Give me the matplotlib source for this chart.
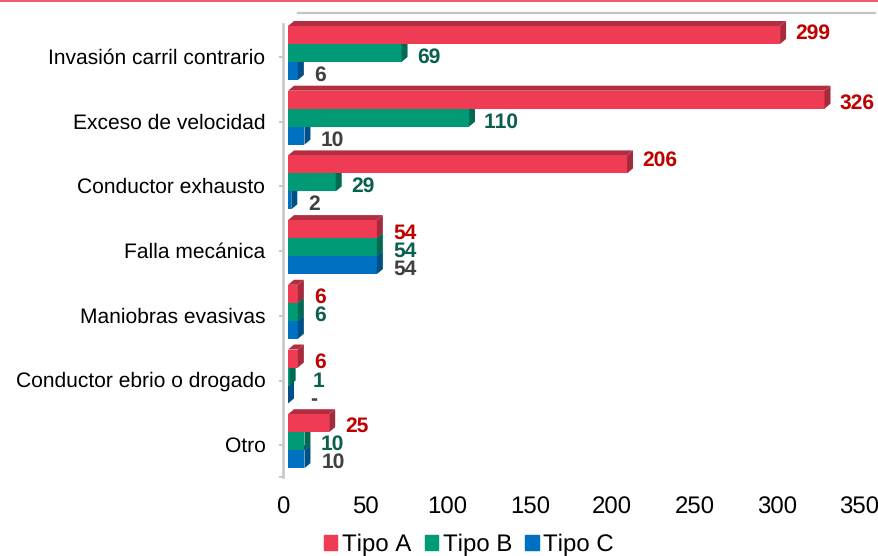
import matplotlib
matplotlib.use('Agg')
import matplotlib.pyplot as plt
from matplotlib.lines import Line2D
from matplotlib.patches import Patch
from matplotlib.transforms import ScaledTranslation
import numpy as np

plt.rcParams['font.family'] = ['Liberation Sans', 'DejaVu Sans']
plt.rcParams['text.hinting'] = 'no_hinting'
plt.rcParams['text.hinting_factor'] = 1
plt.rcParams['text.kerning_factor'] = 6

causas = ['Invasión carril contrario', 'Exceso de velocidad', 'Conductor exhausto',
          'Falla mecánica', 'Maniobras evasivas', 'Conductor ebrio o drogado', 'Otro']
series = ['Tipo A', 'Tipo B', 'Tipo C']
tipo_a = [299, 326, 206, 54, 6, 6, 25]
tipo_b = [69, 110, 29, 54, 6, 1, 10]
tipo_c = [6, 10, 2, 54, 6, 0, 10]
# text shown next to the bars (C has no label on Maniobras, and "-" on ebrio)
labels_a = ['299', '326', '206', '54', '6', '6', '25']
labels_b = ['69', '110', '29', '54', '6', '1', '10']
labels_c = ['6', '10', '2', '54', '', '-', '10']
xticks = [0, 50, 100, 150, 200, 250, 300, 350]

# front, side, top colours + label colour
estilos = [('#F03B54', '#A62A3C', '#B32D41', '#C00000'),
           ('#009A76', '#006B52', '#007A5E', '#0B5F4E'),
           ('#0070C0', '#004F87', '#005A9C', '#404040')]

# hand placed label nudges in pixels (rows = causes, cols = series)
nudge_y = [[-4, 2, 2], [1, 2, 2], [-6, 2, 2], [2, 2, 2], [1, 1, 1], [2, 3, 3], [1, 1, 1]]
nudge_x = [[15, 16, 16], [15, 15, 16], [15, 16, 17], [16, 16, 16],
           [16, 16, 16], [16, 23, 22], [16, 16, 17]]

W, H = 879, 556
fig = plt.figure(figsize=(W / 100, H / 100), dpi=100)
ax = fig.add_axes([288 / W, (H - 477) / H, 576 / W, 453 / H])
ax.set_xlim(0, 350)
ax.set_ylim(6.553, -0.448)

px_x = 350 / 576      # data units for one pixel
px_y = 7.001 / 453
dx, dy = 6 * px_x, 5 * px_y
alto = 18 * px_y

y = np.arange(len(causas))
valores = [tipo_a, tipo_b, tipo_c]
# blue first so the upper bars sit over the top faces below them
for k in [2, 1, 0]:
    front, side, top, txt = estilos[k]
    yc = y + (k - 1) * alto
    ax.barh(yc, valores[k], height=alto, color=front, zorder=3 + (2 - k) * 2)
    for i, v in enumerate(valores[k]):
        t, b = yc[i] - alto / 2, yc[i] + alto / 2
        z = 2 + (2 - k) * 2
        ax.fill([0, v, v + dx, dx], [t, t, t - dy, t - dy], color=top, lw=0, zorder=z, clip_on=False)
        ax.fill([v, v, v + dx, v + dx], [t, b, b - dy, t - dy], color=side, lw=0, zorder=z + 1, clip_on=False)

labels = [labels_a, labels_b, labels_c]
for k in range(3):
    yc = y + (k - 1) * alto
    for i, v in enumerate(valores[k]):
        ax.text(v + nudge_x[i][k] * px_x, yc[i] + nudge_y[i][k] * px_y, labels[k][i],
                color=estilos[k][3], fontsize=14.8, fontweight='bold',
                ha='left', va='center_baseline', zorder=20)

for s in ['top', 'right', 'bottom']:
    ax.spines[s].set_visible(False)
ax.spines['left'].set_position(('outward', 3.3))
ax.spines['left'].set_color('#C8C8C8')
ax.spines['left'].set_linewidth(1.9)

ax.set_yticks(list(y + 4 * px_y) + [6.553])
ax.set_yticklabels(causas + [''], fontsize=15.3, color='#000000')
ax.tick_params(axis='y', length=3, width=1.2, color='#BDBDBD', pad=10)
up = ScaledTranslation(0, 1 / 100, fig.dpi_scale_trans)
for lab in ax.get_yticklabels():
    lab.set_transform(lab.get_transform() + up)

ax.set_xticks(xticks)
ax.set_xticklabels([str(t) for t in xticks], fontsize=17.3, color='#000000')
ax.tick_params(axis='x', length=0, pad=14)
shift = ScaledTranslation(-5 / 100, 0, fig.dpi_scale_trans)
for lab in ax.get_xticklabels():
    lab.set_transform(lab.get_transform() + shift)

# back wall top edge and the slide's red rule
fig.add_artist(Line2D([298 / W, 875 / W], [1 - 12.7 / H] * 2, color='#C4C4C4', lw=1.6))
fig.add_artist(Line2D([0, 1], [1 - 0.5 / H] * 2, color='#F03B54', lw=1.2))

handles = [Patch(color=estilos[k][0], label=series[k]) for k in range(3)]
fig.legend(handles=handles, loc='center', bbox_to_anchor=(469 / W, 1 - 545 / H), ncol=3,
           frameon=False, fontsize=17.4, handlelength=0.55, handleheight=0.55,
           handletextpad=0.2, columnspacing=0.55, borderpad=0)

fig.savefig('out.png', dpi=100)
